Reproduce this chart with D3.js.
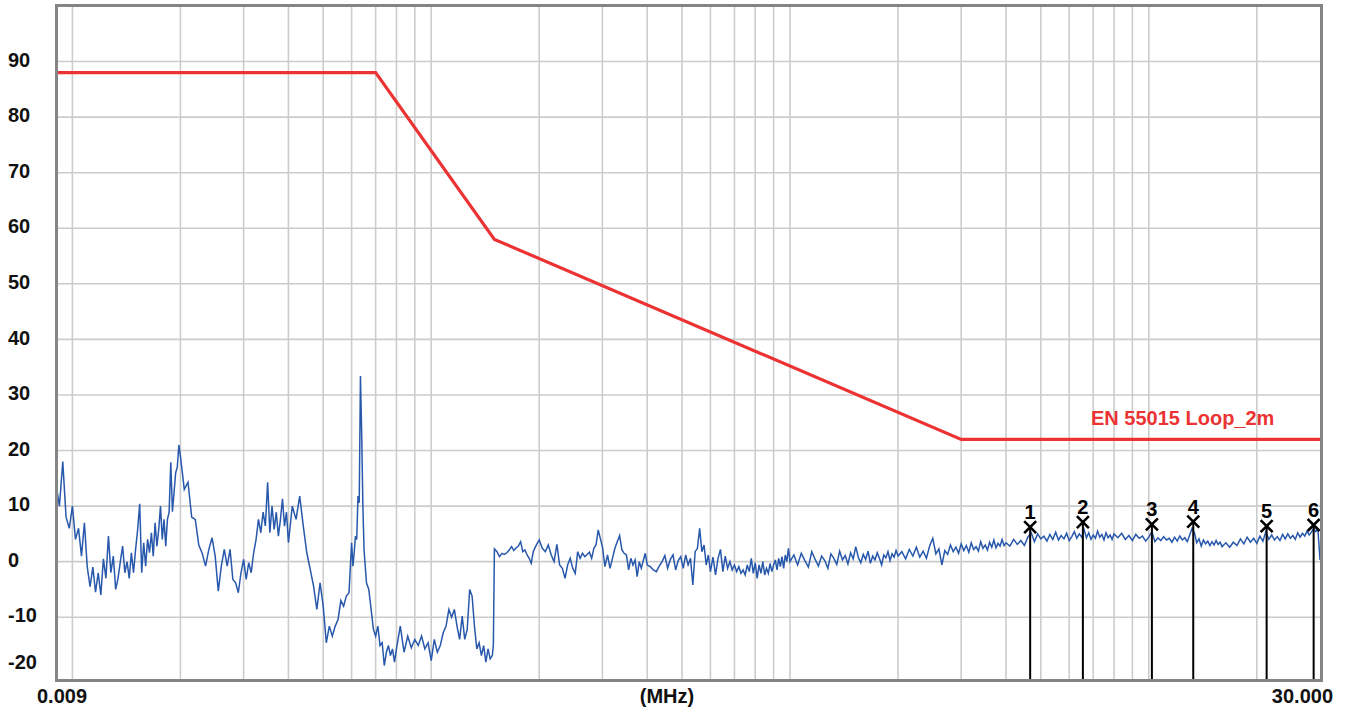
<!DOCTYPE html>
<html>
<head>
<meta charset="utf-8">
<script src="https://cdn.jsdelivr.net/npm/d3@7"></script>
<style>
  body { margin: 0; background: #fff; }
  svg { display: block; }
</style>
</head>
<body>
<svg id="grafico"></svg>
<script>
//Banda A (9 kHz - 149 kHz), frecuencias en kHz
var bandaAFrecKHz = [9, 9.2, 9.4, 9.6, 9.8, 10, 10.2, 10.4, 10.6, 10.8, 11, 11.2, 11.4, 11.6, 11.8, 12, 12.2, 12.4, 12.6, 12.8,
    13, 13.2, 13.4, 13.6, 13.8, 14, 14.2, 14.4, 14.6, 14.8, 15, 15.2, 15.4, 15.6, 15.8, 16, 16.2, 16.4, 16.6, 16.8,
    17, 17.2, 17.4, 17.6, 17.8, 18, 18.2, 18.4, 18.6, 18.8, 19, 19.2, 19.4, 19.6, 19.8, 20,
    20.5, 21, 21.5, 22, 22.5, 23, 23.5, 24, 24.5, 25, 25.5, 26, 26.5, 27, 27.5, 28, 28.5, 29, 29.5, 30,
    30.5, 31, 31.5, 32, 32.5, 33, 33.5, 34, 34.5, 35, 35.5, 36, 36.5, 37, 37.5, 38, 38.5, 39, 39.5, 40,
    41, 42, 43, 44, 45, 46, 47, 48, 49, 50,
    51, 52, 53, 54, 55, 56, 57, 58, 59, 60, 60.5, 61, 61.5, 62, 62.5, 63, 63.5, 64, 64.5, 65,
    66, 67, 68, 69, 70, 71, 72, 73, 74, 75, 76, 77, 78, 79, 80,
    82, 84, 86, 88, 90, 92, 94, 96, 98, 100, 102, 104, 106, 108, 110, 112, 114, 116, 118, 120,
    122, 124, 126, 128, 130, 132, 134, 136, 138, 140, 142, 144, 146, 148, 149];
var bandaANivel = [14, 10, 18, 8, 6, 10, 4, 6, 1, 7, -1, -4.5, -1, -5.5, -2, -6, 0.5, -3, 4.6, -2,
    1, -5, -3, 0, 2.8, -2, 0, -3, 1.6, -2, 2.2, 5.8, 10.4, -2, 3.4, -0.8, 4, 1.6, 5.2, 1,
    7, 2.8, 5.8, 10, 4, 7.6, 2.8, 7.6, 8.9, 17.9, 9, 12.5, 16, 17, 21, 19,
    13, 14.3, 8, 7.6, 3, 1.5, -0.8, 2.2, 4.3, 1, -5.3, -0.8, 2.2, -0.8, 2.2, -3.2, -3.8, -5.6, -2, 0.4,
    -3.2, -0.2, -2, 1.6, 4, 7.6, 5.2, 8.9, 6.4, 14.3, 5.2, 10, 5.8, 8.9, 4.6, 7.6, 11.3, 6.4, 8.9, 3.4,
    10, 7.6, 11.8, 6.4, 1.6, -1.4, -4.4, -8.6, -3.8, -8,
    -14.6, -11.6, -13.4, -11.6, -10.4, -7, -8, -6.2, -5.6, 3.4, -0.8, 1.6, 4.6, 4, 11.8, 10.6, 33.4, 23.2, 10, 2,
    -3.8, -5, -8.6, -12.2, -13.4, -11.6, -15.1, -14.6, -18.7, -16.3, -15.1, -16.9, -15.7, -18.1, -15.7,
    -11.6, -16.3, -13.4, -15.5, -14, -15.1, -13.4, -15.7, -14.6, -17.8, -14, -16.3, -15.1, -12.8, -11.6, -8.6, -10, -8.6, -11.6, -14,
    -9.8, -14, -12.2, -5, -6.2, -11.6, -15.7, -14.6, -16.9, -15.1, -18.1, -15.7, -17.5, -16.9, -15];

//Banda B baja (150 kHz - 1 MHz), frecuencias en kHz
var bandaBFrecKHz = [150, 152.5, 155, 157.5, 160, 162.5, 165, 167.5, 170, 172.5, 175, 177.5, 180, 182.5, 185, 187.5, 190, 192.5, 195, 197.5, 200,
    204, 208, 212, 216, 220, 224, 228, 232, 236, 240, 244, 248, 252, 256, 260, 264, 268, 272, 276, 280, 284, 288, 292, 296, 300,
    305, 310, 315, 320, 325, 330, 335, 340, 345, 350, 355, 360, 365, 370, 375, 380, 385, 390, 395, 400,
    408, 416, 424, 432, 440, 448, 456, 464, 472, 480, 488, 496, 504, 512, 520, 528, 536, 544, 552, 560, 568, 576, 584, 592, 600,
    610, 620, 630, 640, 650, 660, 670, 680, 690, 700, 710, 720, 730, 740, 750, 760, 770, 780, 790, 800,
    810, 820, 830, 840, 850, 860, 870, 880, 890, 900, 910, 920, 930, 940, 950, 960, 970, 980, 990, 1000];
var bandaBNivel = [2.3, 1.8, 0.9, 1.5, 1.3, 1.6, 2.1, 2.7, 2, 2.5, 2.8, 3.6, 1.8, 2.1, 1.2, 0.6, -0.3, 1.8, 2.6, 3.3, 3.9,
    2.4, 1.8, 3, 1.2, 0, 3.1, -0.6, -1.2, -3, -0.6, 0.6, -1.2, -2.1, 1.8, 0.6, 1.5, 0.9, 1.3, 1.7, 0.6, 2.4, 3, 5.7, 4.2, 2.7,
    -0.9, 1.2, -1.2, 0.6, 2.4, 3.6, 4.7, 2.1, 1.5, 1.2, -1.5, 0.6, -0.6, 0.3, -2.7, 0, -1.2, 0.2, 1.5, -0.6,
    -0.9, -1.5, -1.8, -0.8, 0, 1.1, -1.2, 0.4, 1.2, -1.5, 0.2, 0.9, -1.2, 1.2, -0.6, 0.6, -4.2, 1.8, 2.4, 6, 1.8, 3, -0.6, 1.2, -1.8,
    0.8, -2.4, 0.6, 2.2, -1.8, 1, -1.2, 0, -1.5, -0.6, -1.8, -0.9, -2.1, -1.5, -2.4, -0.6, -1.8, 0.6, -2.1, -0.2,
    -3, -0.6, -2.1, 0, -2.4, -1.2, -2.1, -0.3, -1.8, -0.6, 0.3, -1.5, 0.6, -0.9, 0.9, -1.2, 1.2, 0, 2.4, 0];

//Banda B alta (1 MHz - 30 MHz), frecuencias en MHz
var bandaCFrecMHz = [1.025, 1.05, 1.075, 1.1, 1.125, 1.15, 1.175, 1.2, 1.225, 1.25, 1.275, 1.3, 1.325, 1.35, 1.375, 1.4, 1.425, 1.45, 1.475, 1.5,
    1.525, 1.55, 1.575, 1.6, 1.625, 1.65, 1.675, 1.7, 1.725, 1.75, 1.775, 1.8, 1.825, 1.85, 1.875, 1.9, 1.925, 1.95, 1.975, 2,
    2.05, 2.1, 2.15, 2.2, 2.25, 2.3, 2.35, 2.4, 2.45, 2.5, 2.55, 2.6, 2.65, 2.7, 2.75, 2.8, 2.85, 2.9, 2.95, 3,
    3.05, 3.1, 3.15, 3.2, 3.25, 3.3, 3.35, 3.4, 3.45, 3.5, 3.55, 3.6, 3.65, 3.7, 3.75, 3.8, 3.85, 3.9, 3.95, 4,
    4.1, 4.2, 4.3, 4.4, 4.5, 4.6, 4.7, 4.8, 4.9, 5, 5.1, 5.2, 5.3, 5.4, 5.5, 5.6, 5.7, 5.8, 5.9, 6,
    6.1, 6.2, 6.3, 6.4, 6.5, 6.6, 6.7, 6.8, 6.9, 7, 7.1, 7.2, 7.3, 7.4, 7.5, 7.6, 7.7, 7.8, 7.9, 8,
    8.2, 8.4, 8.6, 8.8, 9, 9.2, 9.4, 9.6, 9.8, 10, 10.2, 10.4, 10.6, 10.8, 11, 11.2, 11.4, 11.6, 11.8, 12,
    12.2, 12.4, 12.6, 12.8, 13, 13.2, 13.4, 13.6, 13.8, 14, 14.2, 14.4, 14.6, 14.8, 15, 15.2, 15.4, 15.6, 15.8, 16,
    16.4, 16.8, 17.2, 17.6, 18, 18.4, 18.8, 19.2, 19.6, 20, 20.4, 20.8, 21.2, 21.6, 22, 22.4, 22.8, 23.2, 23.6, 24,
    24.4, 24.8, 25.2, 25.6, 26, 26.4, 26.8, 27.2, 27.6, 28, 28.4, 28.8, 29.2, 29.6, 30];
var bandaCNivel = [1.2, -0.6, 1.5, 0.2, -1, 1.8, 0.4, -0.8, 1, 0.2, -1.2, 1.4, 0.6, -0.5, 1.9, 0.3, 1.1, -0.4, 1.6, 0.5,
    2.7, 0.8, -0.2, 1.3, 0.4, 1.9, -0.3, 1, 0.3, 1.6, 0.6, -0.6, 1.2, 0.7, 1.8, 0.2, 1.4, 0.8, 2, 1,
    1.8, 0.5, 2.2, 1, 2.6, 0.8, 1.9, 0.6, 2.8, 4.2, 1.4, 2.3, -0.6, 2, 1.3, 3, 1.8, 2.6, 1.5, 3.2,
    2, 2.9, 1.7, 3.4, 2.2, 2.7, 1.9, 3.6, 2.4, 3, 2.1, 3.5, 2.6, 3.9, 2.5, 3.3, 2.8, 4, 2.9, 3.4,
    2.8, 4, 3.1, 3.8, 2.9, 4.4, 5.2, 3.6, 5, 4.1, 4.6, 3.7, 4.9, 4, 5.3, 3.9, 4.7, 4.1, 5.1, 3.8,
    4.5, 5.4, 4.2, 5, 4.4, 5.8, 4.3, 5.2, 4, 4.8, 4.2, 5.5, 4.4, 4.9, 3.9, 5.2, 4.3, 4.8, 4, 5,
    4.3, 5.1, 4, 4.7, 3.8, 4.9, 4.2, 4.6, 3.7, 4.4, 5.4, 3.6, 4.3, 3.8, 4.5, 3.9, 4.2, 3.5, 4.4, 3.7,
    4.6, 3.9, 4.3, 3.6, 4.8, 6, 5.2, 3.4, 4.1, 2.8, 3.9, 3.2, 3.7, 2.9, 3.6, 3, 3.8, 3.1, 3.5, 2.7,
    3.4, 2.6, 3.5, 2.9, 4.1, 3.2, 4.4, 3.5, 4.2, 3.3, 4.6, 3.7, 5.4, 4, 4.8, 3.9, 4.5, 3.8, 4.9, 4.1,
    5, 4.2, 4.7, 4, 5.2, 4.4, 5.1, 4.6, 5.5, 4.8, 5.3, 6, 5.4, 5.8, 0.3];

//Linea limite EN 55015 Loop_2m
var limiteFrecMHz = [0.009, 0.07, 0.15, 3, 30];
var limiteNivel = [88, 88, 58, 22, 22];
var nombreLimite = 'EN 55015 Loop_2m';

//Marcadores
var marcadorEtiquetas = ['1', '2', '3', '4', '5', '6'];
var marcadorFrecMHz = [4.67, 6.55, 10.2, 13.3, 21.3, 28.8];
var marcadorNivel = [6.2, 7.1, 6.7, 7.2, 6.4, 6.6];

//Etiquetas de los ejes
var etiquetasY = [90, 80, 70, 60, 50, 40, 30, 20, 10, 0, -10, -20];
var etiquetasX = ['0.009', '(MHz)', '30.000'];

var anchura = 1348,
    altura = 711,
    izq = 56, der = 1320, arriba = 6, abajo = 680;

var x = d3.scaleLog().domain([0.009, 30]).range([izq, der]);
var y = d3.scaleLinear().domain([-21.3, 100]).range([abajo, arriba]);

var svg = d3.select("#grafico")
    .attr("width", anchura)
    .attr("height", altura)
    .style("font-family", "'Liberation Sans', Arial, sans-serif")
    .style("font-weight", "bold");

//Rejilla vertical (1..9 por decada)
svg.append("g")
    .selectAll("line")
    .data(x.ticks().filter(function (f) { return f > 0.0095 && f < 29; }))
    .join("line")
    .attr("x1", function (f) { return x(f); })
    .attr("x2", function (f) { return x(f); })
    .attr("y1", arriba)
    .attr("y2", abajo)
    .style("stroke", "#cccccc")
    .style("stroke-width", 1.6);

//Rejilla horizontal
svg.append("g")
    .selectAll("line")
    .data(etiquetasY.filter(function (v) { return v > -20; }))
    .join("line")
    .attr("x1", izq)
    .attr("x2", der)
    .attr("y1", function (v) { return y(v); })
    .attr("y2", function (v) { return y(v); })
    .style("stroke", "#cccccc")
    .style("stroke-width", 1.6);

//Unir las tres bandas en una sola traza
var traza = [];
bandaAFrecKHz.forEach(function (f, i) { traza.push({ f: f / 1000, v: bandaANivel[i] }); });
bandaBFrecKHz.forEach(function (f, i) { traza.push({ f: f / 1000, v: bandaBNivel[i] }); });
bandaCFrecMHz.forEach(function (f, i) { traza.push({ f: f, v: bandaCNivel[i] }); });

var linea = d3.line()
    .x(function (d) { return x(d.f); })
    .y(function (d) { return y(d.v); });

svg.append("path")
    .datum(traza)
    .attr("d", linea)
    .style("fill", "none")
    .style("stroke", "#2858ac")
    .style("stroke-width", 1.5)
    .style("stroke-linejoin", "miter");

//Linea limite
var limite = limiteFrecMHz.map(function (f, i) { return { f: f, v: limiteNivel[i] }; });
svg.append("path")
    .datum(limite)
    .attr("d", d3.line().x(function (d) { return x(d.f); }).y(function (d) { return y(d.v); }))
    .style("fill", "none")
    .style("stroke", "#ec3333")
    .style("stroke-width", 3.2);

svg.append("text")
    .attr("x", x(6.9))
    .attr("y", y(22) - 14)
    .text(nombreLimite)
    .style("fill", "#ec3333")
    .style("font-size", "20px");

//Marcadores: linea vertical, aspa y numero
var marcadores = marcadorFrecMHz.map(function (f, i) {
    return { f: f, v: marcadorNivel[i], t: marcadorEtiquetas[i] };
});
var m = svg.append("g")
    .selectAll("g")
    .data(marcadores)
    .join("g")
    .attr("transform", function (d) { return "translate(" + x(d.f) + "," + y(d.v) + ")"; });
m.append("line")
    .attr("x1", 0).attr("x2", 0)
    .attr("y1", 0)
    .attr("y2", function (d) { return abajo - y(d.v); })
    .style("stroke", "#000")
    .style("stroke-width", 2);
m.append("path")
    .attr("d", "M-6,-6L6,6M-6,6L6,-6")
    .style("stroke", "#000")
    .style("stroke-width", 2.6)
    .style("fill", "none");
m.append("text")
    .attr("y", -8)
    .style("text-anchor", "middle")
    .style("font-size", "20px")
    .style("fill", "#000")
    .text(function (d) { return d.t; });

//Marco
svg.append("rect")
    .attr("x", izq + 0.5)
    .attr("y", arriba - 0.5)
    .attr("width", der - izq + 1)
    .attr("height", abajo - arriba + 1)
    .style("fill", "none")
    .style("stroke", "#858585")
    .style("stroke-width", 3);

//Etiquetas eje Y (la ultima se sube para no salir del marco)
svg.append("g")
    .selectAll("text")
    .data(etiquetasY)
    .join("text")
    .attr("x", 8)
    .attr("y", function (v) { return Math.min(y(v) - 2, 662); })
    .attr("dy", ".36em")
    .style("font-size", "20px")
    .style("fill", "#111")
    .text(function (v) { return v; });

//Etiquetas eje X
svg.append("text")
    .attr("x", x(0.009) - 19)
    .attr("y", 703)
    .style("font-size", "20px")
    .style("fill", "#111")
    .text(etiquetasX[0]);
svg.append("text")
    .attr("x", 667)
    .attr("y", 703)
    .style("text-anchor", "middle")
    .style("font-size", "20px")
    .style("fill", "#111")
    .text(etiquetasX[1]);
svg.append("text")
    .attr("x", x(30) + 13)
    .attr("y", 703)
    .style("text-anchor", "end")
    .style("font-size", "20px")
    .style("fill", "#111")
    .text(etiquetasX[2]);
</script>
</body>
</html>
